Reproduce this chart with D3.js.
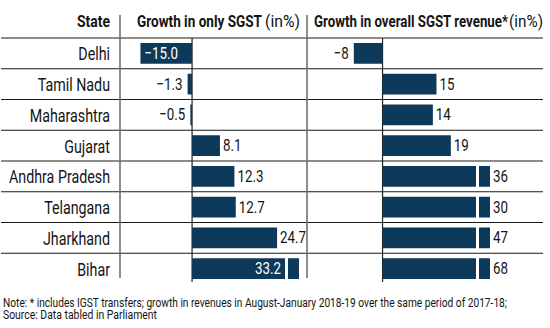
<!DOCTYPE html>
<html><head><meta charset="utf-8">
<script src="https://cdn.jsdelivr.net/npm/d3@7"></script>
<style>
body{margin:0;background:#fff;}
svg{display:block;}
text{font-family:Roboto,"Noto Sans",sans-serif;}
</style></head>
<body>
<svg id="c" width="550" height="328"></svg>
<script>
const states = ["Delhi","Tamil Nadu","Maharashtra","Gujarat","Andhra Pradesh","Telangana","Jharkhand","Bihar"];
const sgstOnly = [-15.0,-1.3,-0.5,8.1,12.3,12.7,24.7,33.2];
const sgstOverall = [-8,15,14,19,36,30,47,68];
const headerState = "State";
const headerLeft = ["Growth in only SGST","(in%)"];
const headerRight = ["Growth in overall SGST revenue*","(in%)"];
const noteLines = ["Note: * includes IGST transfers; growth in revenues in August-January 2018-19 over the same period of 2017-18;","Source: Data tabled in Parliament"];

const svg = d3.select("#c");
const barColor = "#0d3a5a";
const ink = "#141414";
const y = d3.scaleBand().domain(states).range([38, 284]);
const bandPad = 5;

function squeeze(t, factor){
  const w = t.node().getComputedTextLength();
  t.attr("textLength", w*factor).attr("lengthAdjust","spacingAndGlyphs");
  return w*factor;
}
function fitTo(t, width){
  t.attr("textLength", width).attr("lengthAdjust","spacingAndGlyphs");
}
function measure(str, size, weight){
  const t = svg.append("text").attr("font-size",size).attr("font-weight",weight||"normal").text(str);
  const w = t.node().getComputedTextLength(); t.remove(); return w;
}

const panels = [
  {vals: sgstOnly, x: d3.scaleLinear().domain([-16,27]).range([137,285]), fmt: d3.format(".1f"), lo:120, hi:307},
  {vals: sgstOverall, x: d3.scaleLinear().domain([-8.5,26]).range([352,476]), fmt: d3.format("d"), lo:307, hi:545}
];

// horizontal row lines
svg.append("g").selectAll("line").data(states).join("line")
  .attr("x1",1).attr("x2",543)
  .attr("y1",d=>y(d)).attr("y2",d=>y(d))
  .attr("stroke","#1a1a1a").attr("stroke-width",1.2);

// vertical dividers
[120,307].forEach(xv=>{
  svg.append("line").attr("x1",xv).attr("x2",xv).attr("y1",15).attr("y2",278)
    .attr("stroke","#707070").attr("stroke-width",1.6);
});

// state labels
const stateSize = 19;
const stateFactor = 101 / measure("Andhra Pradesh", stateSize);
svg.append("g").selectAll("text").data(states).join("text")
  .attr("x",110).attr("y",d=>y(d)+y.bandwidth()/2+7)
  .attr("text-anchor","end").attr("font-size",stateSize).attr("fill",ink)
  .text(d=>d)
  .each(function(){ squeeze(d3.select(this), stateFactor); });

const valSize = 17;
const valFactor = 26 / measure("12.3", valSize);

panels.forEach(p=>{
  const x = p.x;
  const max = x.domain()[1];
  const g = svg.append("g");
  g.append("line").attr("x1",x(0)).attr("x2",x(0)).attr("y1",38).attr("y2",282)
    .attr("stroke","#222").attr("stroke-width",1.2);
  const rows = states.map((s,i)=>({s, v:p.vals[i]}));
  rows.forEach(r=>{
    const top = y(r.s)+bandPad, h = y.bandwidth()-2*bandPad;
    const broken = r.v>max;
    const v0 = Math.min(0,r.v), v1 = Math.max(0, broken?max:r.v);
    g.append("rect").attr("x",x(v0)).attr("y",top).attr("width",x(v1)-x(v0)).attr("height",h).attr("fill",barColor);
    let endX = x(v1);
    if(broken){
      g.append("rect").attr("x",x(max)+3).attr("y",top).attr("width",11).attr("height",h).attr("fill",barColor);
      endX = x(max)+14;
    }
    const t = g.append("text").attr("y",top + h/2 + 5.5).attr("font-size",valSize).text(p.fmt(r.v));
    const w = squeeze(t, valFactor);
    if(r.v<0){
      if(x(r.v)-5-w < p.lo+4){
        t.attr("x",x(r.v)+4).attr("fill","#fff");
      } else {
        t.attr("x",x(r.v)-5).attr("text-anchor","end").attr("fill",ink);
      }
    } else {
      if(endX+3+w > p.hi+3){
        t.attr("x",x(v1)-4).attr("text-anchor","end").attr("fill","#fff");
      } else {
        t.attr("x",endX+3).attr("fill",ink);
      }
    }
  });
});

// headers
const hSize = 16.5;
const hs = svg.append("text").attr("x",110).attr("y",27).attr("text-anchor","end")
  .attr("font-size",hSize).attr("font-weight","bold").attr("fill",ink).text(headerState);
fitTo(hs, 33);
function header(x0, w0, x1, w1, parts){
  fitTo(svg.append("text").attr("x",x0).attr("y",27).attr("font-size",hSize).attr("font-weight","bold").attr("fill",ink).text(parts[0]), w0);
  fitTo(svg.append("text").attr("x",x1).attr("y",27).attr("font-size",hSize).attr("font-weight","normal").attr("fill",ink).text(parts[1]), w1);
}
header(137, 125, 265, 35, headerLeft);
header(314, 194, 509, 34, headerRight);

// notes
const noteWidths = [504, 154];
svg.append("g").selectAll("text").data(noteLines).join("text")
  .attr("x",3).attr("y",(d,i)=>307+i*12)
  .attr("font-size",12.5).attr("fill",ink).text(d=>d)
  .each(function(d,i){ fitTo(d3.select(this), noteWidths[i]); });
</script>
</body></html>
